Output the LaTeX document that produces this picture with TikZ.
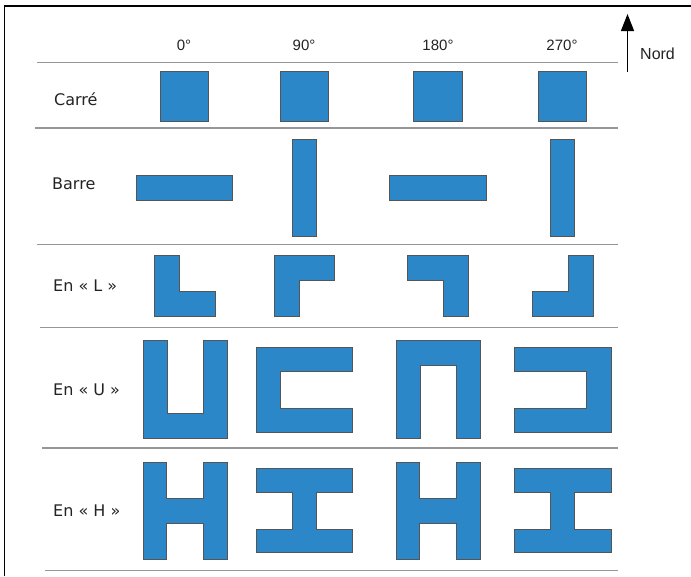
\documentclass[tikz,border=0pt]{standalone}
\usepackage{fontspec}
\setmainfont{DejaVu Sans}
\newfontfamily\hdrfont{Liberation Sans}
\usetikzlibrary{arrows.meta}
\definecolor{shapeblue}{RGB}{43,135,200}
\definecolor{shapeedge}{RGB}{85,85,85}
\definecolor{sepgray}{RGB}{150,150,150}
\definecolor{txt}{RGB}{35,35,35}
\tikzset{
  blk/.style={fill=shapeblue, draw=shapeedge, line width=0.8pt, line join=miter},
  sep/.style={draw=sepgray, line width=1.6pt},
  rowlabel/.style={anchor=west, inner sep=0pt, text=txt, font=\fontsize{16}{19}\selectfont},
  hdr/.style={inner sep=0pt, text=txt, font=\hdrfont\fontsize{15}{17}\selectfont},
  frame/.style={draw=black, line width=1.5pt}
}
\begin{document}
\begin{tikzpicture}[x=1pt,y=-1pt]
\useasboundingbox (0,0) rectangle (691,576);
% frame (top and left)
\coordinate (ftr) at (691,6);
\coordinate (ftl) at (4.3,6);
\coordinate (fbl) at (4.3,576);
\draw[frame] (ftr) -- (ftl) -- (fbl);

% header
\node[hdr] (h0) at (184,45) {0°};
\node[hdr] (h90) at (304,45) {90°};
\node[hdr] (h180) at (438,45) {180°};
\node[hdr] (h270) at (562,45) {270°};
\coordinate (nbot) at (627.5,72);
\coordinate (ntop) at (627.5,14);
\draw[line width=1.3pt, -{Triangle[length=17pt,width=13pt]}] (nbot) -- (ntop);
\node[hdr, anchor=west, font=\hdrfont\fontsize{16}{18}\selectfont] (nord) at (640,54) {Nord};

% separators
\coordinate (s1a) at (37,62.5);  \coordinate (s1b) at (618,62.5);
\coordinate (s2a) at (35,128);   \coordinate (s2b) at (618,128);
\coordinate (s3a) at (37,244.5); \coordinate (s3b) at (618,244.5);
\coordinate (s4a) at (40,327.5); \coordinate (s4b) at (618,327.5);
\coordinate (s5a) at (42,448);   \coordinate (s5b) at (618,448);
\coordinate (s6a) at (45,570.5); \coordinate (s6b) at (618,570.5);
\draw[sep] (s1a) -- (s1b);
\draw[sep] (s2a) -- (s2b);
\draw[sep] (s3a) -- (s3b);
\draw[sep] (s4a) -- (s4b);
\draw[sep] (s5a) -- (s5b);
\draw[sep] (s6a) -- (s6b);

% row labels
\node[rowlabel] (lc) at (54,99.5) {Carré};
\node[rowlabel] (lb) at (52,183.5) {Barre};
\node[rowlabel] (ll) at (53,286) {En « L »};
\node[rowlabel] (lu) at (53,390) {En « U »};
\node[rowlabel] (lh) at (53,511) {En « H »};

% Carre
\draw[blk] (160,71.5) rectangle (208.5,121);
\draw[blk] (280,71.5) rectangle (328.5,121);
\draw[blk] (413.5,71.5) rectangle (462,121);
\draw[blk] (538,71.5) rectangle (586.5,121);

% Barre
\draw[blk] (136,175.5) rectangle (232.5,200);
\draw[blk] (292,139) rectangle (316.5,236);
\draw[blk] (389.5,175.5) rectangle (486,200);
\draw[blk] (550,139) rectangle (574.5,236);

% L
\draw[blk] (154,255) -- (179,255) -- (179,291.5) -- (215,291.5) -- (215,316) -- (154,316) -- cycle;
\draw[blk] (274,255) -- (334,255) -- (334,280) -- (299,280) -- (299,316) -- (274,316) -- cycle;
\draw[blk] (407,255) -- (468,255) -- (468,316) -- (443,316) -- (443,280) -- (407,280) -- cycle;
\draw[blk] (568,255) -- (593,255) -- (593,316) -- (532,316) -- (532,291.5) -- (568,291.5) -- cycle;

% U
\draw[blk] (143,340) -- (167,340) -- (167,413) -- (203,413) -- (203,340) -- (227,340) -- (227,438) -- (143,438) -- cycle;
\draw[blk] (256,347) -- (352,347) -- (352,371) -- (280.5,371) -- (280.5,408) -- (352,408) -- (352,432) -- (256,432) -- cycle;
\draw[blk] (396,340) -- (480,340) -- (480,438) -- (456,438) -- (456,365) -- (420,365) -- (420,438) -- (396,438) -- cycle;
\draw[blk] (514,347) -- (611,347) -- (611,432) -- (514,432) -- (514,408) -- (586,408) -- (586,371) -- (514,371) -- cycle;

% H
\draw[blk] (143,462) -- (166.5,462) -- (166.5,498) -- (203,498) -- (203,462) -- (227,462) -- (227,559) -- (203,559) -- (203,523) -- (166.5,523) -- (166.5,559) -- (143,559) -- cycle;
\draw[blk] (256,468) -- (352,468) -- (352,492) -- (316,492) -- (316,529) -- (352,529) -- (352,552) -- (256,552) -- (256,529) -- (292,529) -- (292,492) -- (256,492) -- cycle;
\draw[blk] (396,462) -- (419.5,462) -- (419.5,498) -- (456,498) -- (456,462) -- (480,462) -- (480,559) -- (456,559) -- (456,523) -- (419.5,523) -- (419.5,559) -- (396,559) -- cycle;
\draw[blk] (514,468) -- (611,468) -- (611,492) -- (574.5,492) -- (574.5,529) -- (611,529) -- (611,552) -- (514,552) -- (514,529) -- (550,529) -- (550,492) -- (514,492) -- cycle;
\end{tikzpicture}
\end{document}
